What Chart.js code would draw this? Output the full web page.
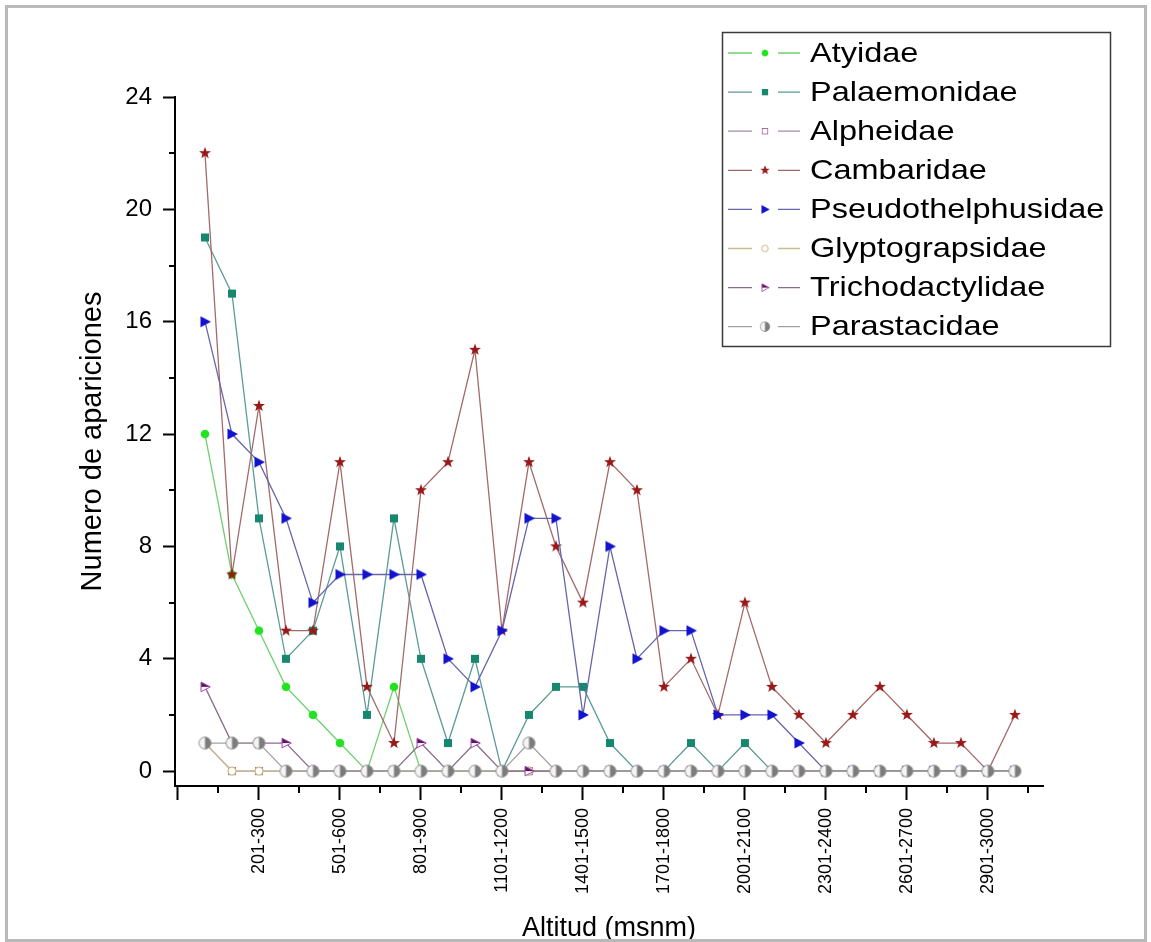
<!DOCTYPE html>
<html>
<head>
<meta charset="utf-8">
<title>Numero de apariciones por altitud</title>
<script src="https://cdn.jsdelivr.net/npm/chart.js@4.4.1/dist/chart.umd.min.js"></script>
<style>
  html, body { margin: 0; padding: 0; background: #fff; }
  #wrap { position: relative; width: 1151px; height: 942px; overflow: hidden; }
  #frame { position: absolute; left: 5px; top: 5px; width: 1136px; height: 931px; border: 3px solid #b9b9b9; pointer-events: none; }
  canvas { position: absolute; left: 0; top: 0; }
</style>
</head>
<body>
<div id="wrap">
  <canvas id="myChart" width="1151" height="942"></canvas>
  <div id="frame"></div>
</div>
<script>
// altitude classes (msnm), one per point
const altitudes = [
  "1-100", "101-200", "201-300", "301-400", "401-500", "501-600", "601-700",
  "701-800", "801-900", "901-1000", "1001-1100", "1101-1200", "1201-1300",
  "1301-1400", "1401-1500", "1501-1600", "1601-1700", "1701-1800", "1801-1900",
  "1901-2000", "2001-2100", "2101-2200", "2201-2300", "2301-2400", "2401-2500",
  "2501-2600", "2601-2700", "2701-2800", "2801-2900", "2901-3000", "3001-3100"
];

const atyidae = [12, 7, 5, 3, 2, 1, 0, 3, 0, 0, 0, 0, 0, 0, 0, 0, 0, 0, 0, 0, 0, 0, 0, 0, 0, 0, 0, 0, 0, 0, 0];
const palaemonidae = [19, 17, 9, 4, 5, 8, 2, 9, 4, 1, 4, 0, 2, 3, 3, 1, 0, 0, 1, 0, 1, 0, 0, 0, 0, 0, 0, 0, 0, 0, 0];
const alpheidae = [1, 0, 0, 0, 0, 0, 0, 0, 0, 0, 0, 0, 0, 0, 0, 0, 0, 0, 0, 0, 0, 0, 0, 0, 0, 0, 0, 0, 0, 0, 0];
const cambaridae = [22, 7, 13, 5, 5, 11, 3, 1, 10, 11, 15, 5, 11, 8, 6, 11, 10, 3, 4, 2, 6, 3, 2, 1, 2, 3, 2, 1, 1, 0, 2];
const pseudothelphusidae = [16, 12, 11, 9, 6, 7, 7, 7, 7, 4, 3, 5, 9, 9, 2, 8, 4, 5, 5, 2, 2, 2, 1, 0, 0, 0, 0, 0, 0, 0, 0];
const glyptograpsidae = [1, 0, 0, 0, 0, 0, 0, 0, 0, 0, 0, 0, 0, 0, 0, 0, 0, 0, 0, 0, 0, 0, 0, 0, 0, 0, 0, 0, 0, 0, 0];
const trichodactylidae = [3, 1, 1, 1, 0, 0, 0, 0, 1, 0, 1, 0, 0, 0, 0, 0, 0, 0, 0, 0, 0, 0, 0, 0, 0, 0, 0, 0, 0, 0, 0];
const parastacidae = [1, 1, 1, 0, 0, 0, 0, 0, 0, 0, 0, 0, 1, 0, 0, 0, 0, 0, 0, 0, 0, 0, 0, 0, 0, 0, 0, 0, 0, 0, 0];

// axis ticks (in point index / count units)
const xMajorTicks = [-1, 2, 5, 8, 11, 14, 17, 20, 23, 26, 29];
const xMinorTicks = [0.5, 3.5, 6.5, 9.5, 12.5, 15.5, 18.5, 21.5, 24.5, 27.5, 30.5];
const yMajorTicks = [0, 4, 8, 12, 16, 20, 24];
const yMinorTicks = [2, 6, 10, 14, 18, 22];

const FONT = '"Liberation Sans", Arial, Helvetica, sans-serif';

// small canvases used as point markers
function marker(size, draw) {
  const c = document.createElement("canvas");
  c.width = size;
  c.height = size;
  const g = c.getContext("2d");
  g.translate(size / 2, size / 2);
  draw(g);
  return c;
}

function triPath(g, s) {
  g.beginPath();
  g.moveTo(-4.5 * s, -5.5 * s);
  g.lineTo(6 * s, 0);
  g.lineTo(-4.5 * s, 5.5 * s);
  g.closePath();
}

const markers = {
  dot: marker(12, (g) => {
    g.beginPath();
    g.arc(0, 0, 4.3, 0, Math.PI * 2);
    g.fillStyle = "#22e322";
    g.fill();
  }),
  square: marker(12, (g) => {
    g.fillStyle = "#17876f";
    g.fillRect(-4, -4, 8, 8);
  }),
  openSquare: marker(12, (g) => {
    g.fillStyle = "#fff";
    g.fillRect(-3.5, -3.5, 7, 7);
    g.strokeStyle = "#9b5b9b";
    g.lineWidth = 1;
    g.strokeRect(-3.5, -3.5, 7, 7);
  }),
  star: marker(14, (g) => {
    g.beginPath();
    for (let j = 0; j < 10; j++) {
      const r = j % 2 ? 2.6 : 6.3;
      const a = -Math.PI / 2 + (j * Math.PI) / 5;
      g.lineTo(r * Math.cos(a), r * Math.sin(a));
    }
    g.closePath();
    g.fillStyle = "#9a1818";
    g.fill();
  }),
  triangle: marker(14, (g) => {
    triPath(g, 1);
    g.fillStyle = "#1212cf";
    g.fill();
  }),
  openCircle: marker(12, (g) => {
    g.beginPath();
    g.arc(0, 0, 4, 0, Math.PI * 2);
    g.fillStyle = "#fff";
    g.fill();
    g.strokeStyle = "#c9b77c";
    g.lineWidth = 1.2;
    g.stroke();
  }),
  halfTriangle: marker(14, (g) => {
    triPath(g, 0.88);
    g.fillStyle = "#fff";
    g.fill();
    g.save();
    g.beginPath();
    g.rect(-7, -7, 14, 7);
    g.clip();
    triPath(g, 0.88);
    g.fillStyle = "#5c1464";
    g.fill();
    g.restore();
    triPath(g, 0.88);
    g.strokeStyle = "#a044a6";
    g.lineWidth = 1;
    g.stroke();
  }),
  halfDisc: marker(15, (g) => {
    g.beginPath();
    g.arc(0, 0, 6, 0, Math.PI * 2);
    g.fillStyle = "#f4f4f4";
    g.fill();
    g.beginPath();
    g.moveTo(0, -6);
    g.arc(0, 0, 6, -Math.PI / 2, Math.PI / 2);
    g.closePath();
    g.fillStyle = "#7c7c7c";
    g.fill();
    g.beginPath();
    g.arc(0, 0, 6, 0, Math.PI * 2);
    g.strokeStyle = "#8e8e8e";
    g.lineWidth = 1;
    g.stroke();
  }),
};

const series = [
  ["Atyidae", atyidae, "#6fcf6f", markers.dot],
  ["Palaemonidae", palaemonidae, "#5d9c95", markers.square],
  ["Alpheidae", alpheidae, "#a58aa5", markers.openSquare],
  ["Cambaridae", cambaridae, "#a46a6a", markers.star],
  ["Pseudothelphusidae", pseudothelphusidae, "#6666aa", markers.triangle],
  ["Glyptograpsidae", glyptograpsidae, "#c8bd92", markers.openCircle],
  ["Trichodactylidae", trichodactylidae, "#8c6a8c", markers.halfTriangle],
  ["Parastacidae", parastacidae, "#a2a2a2", markers.halfDisc],
];

const datasets = series.map(([name, values, color, style], k) => ({
  label: name,
  data: values.map((v, i) => ({ x: i, y: v })),
  borderColor: color,
  backgroundColor: color,
  borderWidth: 1.3,
  pointStyle: style,
  pointRadius: 5,
  pointHoverRadius: 5,
  tension: 0,
  order: series.length - k, // later series drawn on top
}));

// short minor ticks on both axes
const minorTicks = {
  id: "minorTicks",
  afterDraw(chart) {
    const { ctx, scales } = chart;
    const x = scales.x;
    const y = scales.y;
    ctx.save();
    ctx.strokeStyle = "#000";
    ctx.lineWidth = 2;
    ctx.beginPath();
    xMinorTicks.forEach((v) => {
      const px = Math.round(x.getPixelForValue(v));
      ctx.moveTo(px, x.top);
      ctx.lineTo(px, x.top + 7);
    });
    yMinorTicks.forEach((v) => {
      const py = Math.round(y.getPixelForValue(v));
      ctx.moveTo(y.right - 6, py);
      ctx.lineTo(y.right, py);
    });
    ctx.stroke();
    ctx.restore();
  },
};

// boxed legend: line - marker - line, then name
const legendBox = {
  id: "legendBox",
  afterDraw(chart) {
    const ctx = chart.ctx;
    const left = 722;
    const top = 32;
    ctx.save();
    ctx.fillStyle = "#fff";
    ctx.fillRect(left, top, 388, 314);
    ctx.strokeStyle = "#3a3a3a";
    ctx.lineWidth = 1.5;
    ctx.strokeRect(left + 0.5, top + 0.5, 388, 314);
    chart.data.datasets.forEach((ds, k) => {
      const y = top + 21 + k * 39.1;
      ctx.strokeStyle = ds.borderColor;
      ctx.lineWidth = 1.3;
      ctx.beginPath();
      ctx.moveTo(left + 6, y);
      ctx.lineTo(left + 30, y);
      ctx.moveTo(left + 56, y);
      ctx.lineTo(left + 78, y);
      ctx.stroke();
      const img = ds.pointStyle;
      const w = img.width * 0.8;
      const h = img.height * 0.8;
      ctx.drawImage(img, left + 43 - w / 2, y - h / 2, w, h);
      ctx.save();
      ctx.translate(left + 88, y + 1);
      ctx.scale(1.16, 1);
      ctx.font = "28px " + FONT;
      ctx.fillStyle = "#000";
      ctx.textBaseline = "middle";
      ctx.textAlign = "left";
      ctx.fillText(ds.label, 0, 0);
      ctx.restore();
    });
    ctx.restore();
  },
};

const config = {
  type: "line",
  data: { datasets },
  options: {
    responsive: false,
    animation: false,
    devicePixelRatio: 1,
    layout: { padding: { left: 0, top: 97, right: 108, bottom: 0 } },
    plugins: {
      legend: { display: false },
      tooltip: { enabled: false },
    },
    scales: {
      x: {
        type: "linear",
        min: -1.11,
        max: 31.04,
        afterBuildTicks: (scale) => {
          scale.ticks = xMajorTicks.map((v) => ({ value: v }));
        },
        afterFit: (scale) => {
          scale.height = 156;
        },
        ticks: {
          autoSkip: false,
          minRotation: 90,
          maxRotation: 90,
          padding: 8,
          color: "#000",
          font: { family: FONT, size: 18 },
          callback: (value) => (value >= 0 ? altitudes[Math.round(value)] : ""),
        },
        grid: {
          drawOnChartArea: false,
          drawTicks: true,
          tickLength: 14,
          tickWidth: 2,
          tickColor: "#000",
        },
        border: { display: true, color: "#000", width: 2 },
        title: {
          display: true,
          text: "Altitud (msnm)",
          color: "#000",
          font: { family: FONT, size: 27, lineHeight: 1 },
          padding: { top: 0, bottom: 0 },
        },
      },
      y: {
        type: "linear",
        min: -0.53,
        max: 24,
        afterBuildTicks: (scale) => {
          scale.ticks = yMajorTicks.map((v) => ({ value: v }));
        },
        afterFit: (scale) => {
          scale.width = 175;
        },
        ticks: {
          padding: 11,
          color: "#000",
          font: { family: FONT, size: 24 },
          callback: (value) => String(value),
        },
        grid: {
          drawOnChartArea: false,
          drawTicks: true,
          tickLength: 12,
          tickWidth: 2,
          tickColor: "#000",
        },
        border: { display: true, color: "#000", width: 2 },
        title: {
          display: true,
          text: "Numero de apariciones",
          color: "#000",
          font: { family: FONT, size: 29, lineHeight: 1 },
          padding: { top: 78, bottom: 0 },
        },
      },
    },
  },
  plugins: [minorTicks, legendBox],
};

new Chart(document.getElementById("myChart"), config);
</script>
</body>
</html>
